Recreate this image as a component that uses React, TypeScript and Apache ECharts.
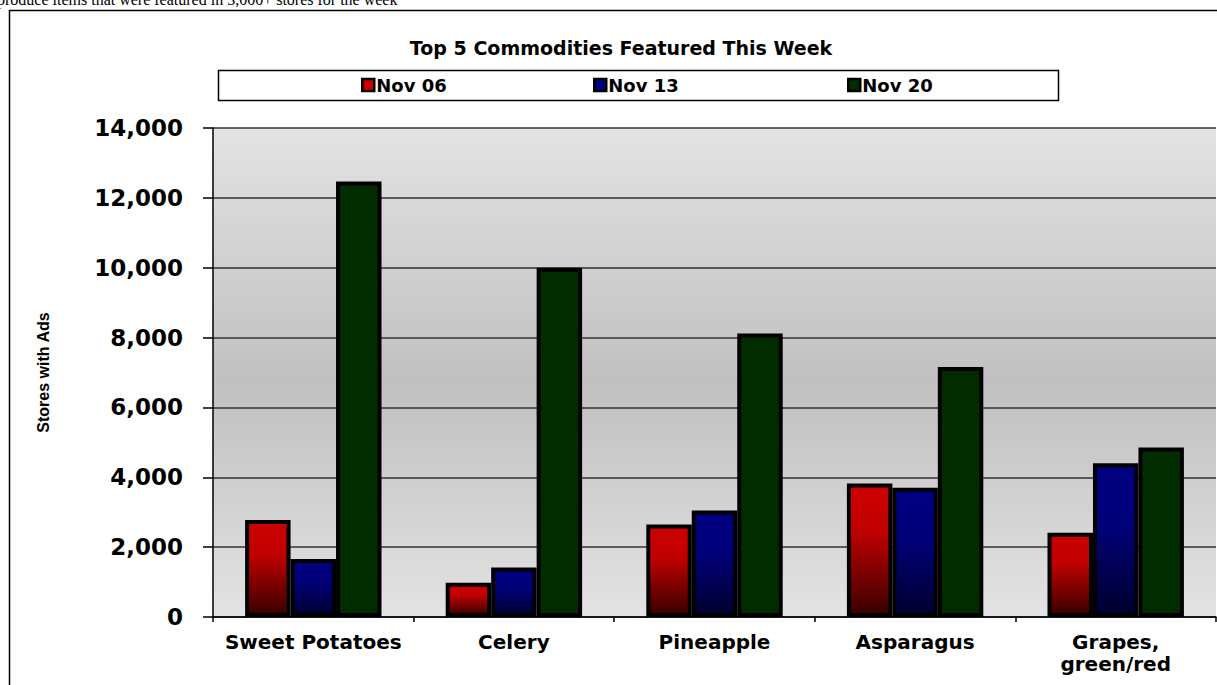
import React, { useEffect, useRef } from "react";
import * as echarts from "echarts";

const categories = ["Sweet Potatoes", "Celery", "Pineapple", "Asparagus", "Grapes,\ngreen/red"];
const seriesNames = ["Nov 06", "Nov 13", "Nov 20"];
const nov06 = [2780, 980, 2650, 3820, 2410];
const nov13 = [1660, 1420, 3050, 3700, 4400];
const nov20 = [12470, 10000, 8120, 7160, 4850];
const yTicks = { min: 0, max: 14000, interval: 2000 };
const titleText = "Top 5 Commodities Featured This Week";
const yAxisTitle = "Stores with Ads";
const headerText = "produce items that were featured in 3,000+ stores for the week";

const BOLD = "'DejaVu Sans', 'Liberation Sans', Arial, sans-serif";

export default function App() {
  const ref = useRef<HTMLDivElement>(null);
  useEffect(() => {
    if (!ref.current) return;
    const chart = echarts.init(ref.current, undefined, { renderer: "svg" });
    const grad = (stops: [number, string][]) =>
      new echarts.graphic.LinearGradient(0, 0, 0, 1, stops.map(([offset, color]) => ({ offset, color })));
    const fills = [
      grad([[0, "#cc0000"], [0.35, "#c00000"], [1, "#380000"]]),
      grad([[0, "#000082"], [0.4, "#000078"], [1, "#00002e"]]),
      "#002c00",
    ];
    const legendColors = ["#cc0000", "#000082", "#002c00"];
    const legendLeft = [361, 593, 847];
    const values = [nov06, nov13, nov20];

    chart.setOption({
      animation: false,
      backgroundColor: "#ffffff",
      title: {
        text: titleText,
        left: 616,
        top: 33,
        textAlign: "center",
        textStyle: { fontFamily: BOLD, fontWeight: "bold", fontSize: 19, color: "#000" },
      },
      graphic: [
        {
          type: "text",
          x: -3,
          y: 7,
          z: 10,
          style: {
            text: headerText,
            fontFamily: "'Liberation Serif', 'Times New Roman', serif",
            fontSize: 16,
            fill: "#000",
            verticalAlign: "bottom",
          },
        },
        {
          type: "rect",
          z: -10,
          shape: { x: 9.5, y: 10.5, width: 1230, height: 700 },
          style: { fill: "none", stroke: "#000", lineWidth: 1.5 },
        },
        {
          type: "rect",
          z: -10,
          shape: { x: 218.5, y: 70.5, width: 840, height: 30 },
          style: { fill: "#fff", stroke: "#000", lineWidth: 1.5 },
        },
      ],
      legend: seriesNames.map((name, i) => ({
        data: [
          {
            name,
            itemStyle: { color: legendColors[i], borderColor: "#000", borderWidth: 2.5 },
          },
        ],
        left: legendLeft[i],
        top: 76,
        icon: "rect",
        itemWidth: 12,
        itemHeight: 12,
        itemGap: 0,
        padding: 0,
        textStyle: { fontFamily: BOLD, fontWeight: "bold", fontSize: 18, color: "#000", padding: [0, 0, 0, -3] },
      })),
      grid: {
        left: 213,
        right: 1,
        top: 128,
        bottom: 68,
        show: true,
        borderWidth: 0,
        backgroundColor: new echarts.graphic.LinearGradient(0, 0, 0, 1, [
          { offset: 0, color: "#e3e3e3" },
          { offset: 0.52, color: "#c0c0c0" },
          { offset: 1, color: "#e3e3e3" },
        ]),
      },
      xAxis: {
        type: "category",
        data: categories,
        axisLine: { show: true, lineStyle: { color: "#000", width: 1.5 } },
        axisTick: { show: true, length: 5, lineStyle: { color: "#000", width: 1.5 } },
        axisLabel: {
          margin: 14,
          interval: 0,
          fontFamily: BOLD,
          fontWeight: "bold",
          fontSize: 20,
          lineHeight: 22,
          color: "#000",
        },
      },
      yAxis: {
        type: "value",
        min: yTicks.min,
        max: yTicks.max,
        interval: yTicks.interval,
        name: yAxisTitle,
        nameLocation: "middle",
        nameGap: 162,
        nameRotate: 90,
        nameTextStyle: {
          fontFamily: "'Liberation Sans Narrow', 'Liberation Sans', Arial, sans-serif",
          fontWeight: "bold",
          fontSize: 16,
          color: "#000",
        },
        axisLine: { show: true, lineStyle: { color: "#000", width: 1.5 } },
        axisTick: { show: true, length: 10, lineStyle: { color: "#000", width: 1.5 } },
        axisLabel: {
          margin: 30,
          fontFamily: BOLD,
          fontWeight: "bold",
          fontSize: 23,
          color: "#000",
          formatter: (v: number) => v.toLocaleString("en-US"),
        },
        splitLine: { show: true, lineStyle: { color: "#333333", width: 1.6 } },
      },
      series: seriesNames.map((name, i) => ({
        name,
        type: "bar",
        data: values[i],
        barGap: "0%",
        barCategoryGap: "32%",
        itemStyle: { color: fills[i], borderColor: "#000", borderWidth: 4 },
      })),
    });
    return () => chart.dispose();
  }, []);
  return (
    <div
      ref={ref}
      style={{ position: "fixed", left: 0, top: 0, width: 1217, height: 685 }}
    />
  );
}
